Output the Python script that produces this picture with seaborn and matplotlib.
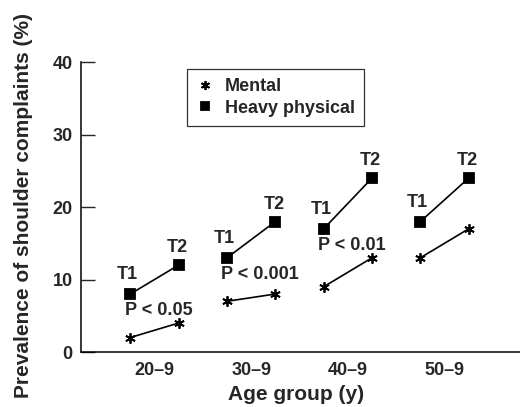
import matplotlib
matplotlib.use("Agg")
import matplotlib.pyplot as plt
from matplotlib.lines import Line2D
import seaborn as sns
import pandas as pd

# values
age_groups = ["20–9", "30–9", "40–9", "50–9"]
mental_t1 = [2, 7, 9, 13]
mental_t2 = [4, 8, 13, 17]
heavy_t1 = [8, 13, 17, 18]
heavy_t2 = [12, 18, 24, 24]
p_labels = ["P < 0.05", "P < 0.001", "P < 0.01", ""]
occupations = ["Mental", "Heavy physical"]

rows = []
for g, age in enumerate(age_groups):
    for occ, t1, t2 in [("Mental", mental_t1, mental_t2), ("Heavy physical", heavy_t1, heavy_t2)]:
        rows.append({"age": age, "occupation": occ, "time": "T1", "x": g - 0.25, "prevalence": t1[g]})
        rows.append({"age": age, "occupation": occ, "time": "T2", "x": g + 0.25, "prevalence": t2[g]})
df = pd.DataFrame(rows)

sns.set_style("ticks")
plt.rcParams["font.family"] = ["Liberation Sans", "DejaVu Sans"]
plt.rcParams["font.weight"] = "bold"
plt.rcParams["axes.labelweight"] = "bold"

fig = plt.figure(figsize=(5.2, 4.07), dpi=100)
ax = fig.add_axes([0.1558, 0.1351, 0.8442, 0.7125])

markers = {"Mental": (6, 2, 0), "Heavy physical": "s"}
msizes = {"Mental": 7.5, "Heavy physical": 7}
for occ in occupations:
    sub = df[df["occupation"] == occ]
    sns.lineplot(data=sub, x="x", y="prevalence", units="age", estimator=None,
                 color="black", lw=1.2, marker=markers[occ], ms=msizes[occ],
                 mec="black", mfc="black", mew=1.3, legend=False, ax=ax)

# T1 / T2 labels over the heavy physical points, P values under T1
heavy = df[df["occupation"] == "Heavy physical"]
for _, r in heavy.iterrows():
    if r["time"] == "T1":
        ax.annotate("T1", (r["x"], r["prevalence"]), xytext=(-2, 14), textcoords="offset points",
                    ha="center", va="center", fontsize=13)
        p = p_labels[age_groups.index(r["age"])]
        if p:
            ax.annotate(p, (r["x"], r["prevalence"]), xytext=(-4, -12), textcoords="offset points",
                        ha="left", va="center", fontsize=13)
    else:
        ax.annotate("T2", (r["x"], r["prevalence"]), xytext=(-1, 12.5), textcoords="offset points",
                    ha="center", va="center", fontsize=13)

ax.set_xlim(-0.76, 3.78)
ax.set_ylim(0, 40)
ax.set_xticks(range(len(age_groups)))
ax.set_xticklabels(age_groups)
ax.set_yticks([0, 10, 20, 30, 40])
ax.tick_params(axis="y", direction="in", length=10, width=1, pad=6, labelsize=13)
ax.tick_params(axis="x", length=0, pad=7, labelsize=13)
sns.despine(ax=ax)
for s in ["left", "bottom"]:
    ax.spines[s].set_linewidth(1.1)
    ax.spines[s].set_color("black")

ax.set_xlabel("Age group (y)", fontsize=15)
ax.set_ylabel("Prevalence of shoulder complaints (%)", fontsize=15)
ax.xaxis.set_label_coords(0.49, -0.115)
ax.yaxis.set_label_coords(-0.11, 0.505)

handles = [Line2D([], [], linestyle="none", marker=markers[o], ms=msizes[o] - 1,
                  color="black", mec="black", mew=1.3) for o in occupations]
leg = ax.legend(handles, occupations, loc="upper left", bbox_to_anchor=(0.241, 0.976),
                fontsize=13, frameon=True, fancybox=False, borderpad=0.5,
                labelspacing=0.25, handletextpad=0.6, handlelength=1.0, borderaxespad=0)
leg.get_frame().set_edgecolor("black")
leg.get_frame().set_linewidth(0.9)

fig.savefig("out.png", dpi=100)
